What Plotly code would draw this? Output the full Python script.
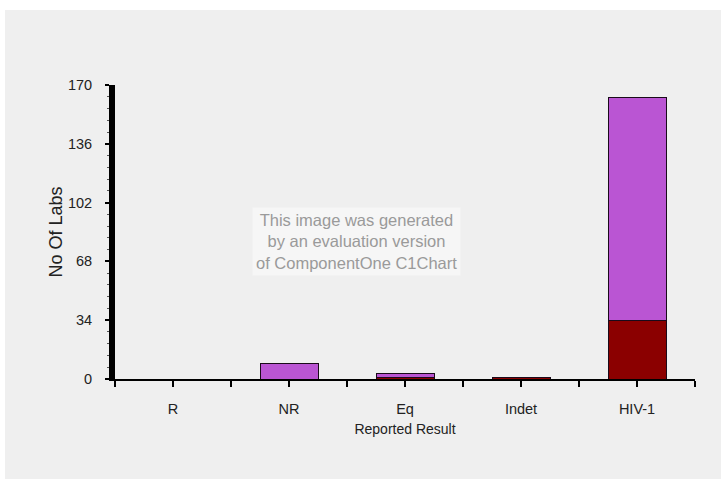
import plotly.graph_objects as go

categories = ["R", "NR", "Eq", "Indet", "HIV-1"]
dark_values = [0, 0, 1, 1, 34]
purple_values = [0, 9, 2, 0, 129]
y_ticks = [0, 34, 68, 102, 136, 170]

xpos = list(range(len(categories)))
tickvals = [i * 0.5 - 0.5 for i in range(2 * len(categories) + 1)]
ticktext = []
for v in tickvals:
    if float(v).is_integer():
        ticktext.append(categories[int(v)])
    else:
        ticktext.append("")

fig = go.Figure()
fig.add_trace(go.Bar(x=xpos, y=dark_values, name="Series 1", width=0.5,
                     marker=dict(color="#8b0000", line=dict(color="#1a0a1a", width=1))))
fig.add_trace(go.Bar(x=xpos, y=purple_values, name="Series 2", width=0.5,
                     marker=dict(color="#ba55d3", line=dict(color="#1a0a1a", width=1))))

font = "Liberation Sans, Arial, sans-serif"
fig.update_layout(
    barmode="stack",
    width=721, height=479,
    margin=dict(l=115, r=26, t=85, b=100),
    paper_bgcolor="#efefef",
    plot_bgcolor="#efefef",
    showlegend=False,
    font=dict(family=font, size=14.5, color="#222222"),
    xaxis=dict(range=[-0.5, 4.5], tickmode="array", tickvals=tickvals, ticktext=ticktext,
               showline=True, linecolor="black", linewidth=2, ticks="outside", ticklen=6,
               tickwidth=2, tickcolor="black", showgrid=False, zeroline=False,
               ticklabelstandoff=10,
               title=dict(text="Reported Result", standoff=8, font=dict(size=14))),
    yaxis=dict(range=[0, 170], tickmode="array", tickvals=y_ticks,
               showline=True, linecolor="black", linewidth=6, ticks="outside", ticklen=4,
               tickwidth=2, tickcolor="black", showgrid=False, zeroline=False,
               ticklabelstandoff=10,
               minor=dict(dtick=6.8, ticks="outside", ticklen=2, tickwidth=1, tickcolor="#555555"),
               title=dict(text="No Of Labs", standoff=3, font=dict(size=18))),
    shapes=[
        dict(type="rect", xref="paper", yref="paper", x0=-1, x1=2, y0=(379 - 10) / 294, y1=2,
             fillcolor="white", line=dict(width=0), layer="below"),
        dict(type="rect", xref="paper", yref="paper", x0=-1, x1=(5 - 115) / 580, y0=-1, y1=2,
             fillcolor="white", line=dict(width=0), layer="below"),
    ],
    annotations=[
        dict(text="This image was generated<br>by an evaluation version<br>of ComponentOne C1Chart",
             xref="paper", yref="paper", x=0.417, y=0.466, showarrow=False,
             font=dict(family=font, size=16.5, color="#9a9a9a"),
             bgcolor="#f6f6f6", borderpad=3, align="center"),
    ],
)

fig.write_html("out.html", config={"displayModeBar": False})
with open("out.html", "r", encoding="utf-8") as f:
    html = f.read()
html = html.replace("<body>", '<body style="margin:0;padding:0;overflow:hidden">', 1)
html = html.replace("<head>", '<head><style>html,body{margin:0;padding:0;}</style>', 1)
with open("out.html", "w", encoding="utf-8") as f:
    f.write(html)
